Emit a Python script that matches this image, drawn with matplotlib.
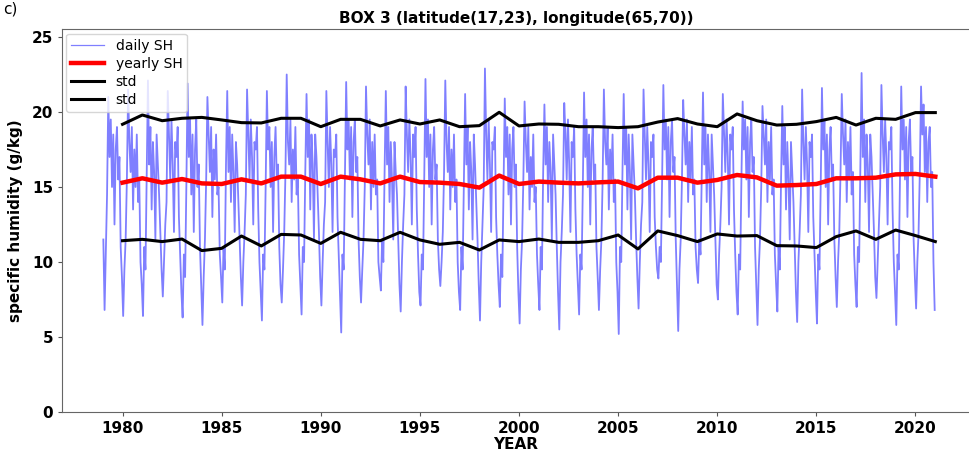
import numpy as np
import matplotlib
matplotlib.use("Agg")
import matplotlib.pyplot as plt

# years of the daily record (one row of sub-yearly samples per year)
daily_years = list(range(1979, 2021))
daily_sh = [
    [11.5, 6.8, 10.5, 14.5, 21.0, 17.0, 19.5, 15.0, 18.5, 12.5, 17.5, 19.0, 15.5, 17.0, 11.0, 9.0],
    [6.4, 9.5, 11.5, 15.5, 21.5, 18.0, 16.0, 19.0, 13.5, 17.5, 15.0, 18.5, 14.0, 15.5, 10.0, 8.5],
    [6.4, 11.0, 9.5, 16.0, 22.1, 16.5, 19.0, 13.5, 18.0, 16.0, 11.5, 18.5, 16.5, 14.5, 12.0, 9.5],
    [7.7, 10.0, 12.5, 14.0, 21.4, 18.5, 15.5, 19.5, 16.5, 12.0, 18.0, 17.0, 19.0, 13.0, 10.5, 8.0],
    [6.3, 10.5, 9.0, 15.0, 21.9, 17.0, 19.5, 14.5, 18.5, 12.0, 17.5, 19.5, 15.0, 16.5, 11.0, 8.5],
    [5.8, 9.0, 11.5, 15.5, 21.0, 18.5, 16.0, 19.0, 13.0, 17.5, 15.5, 18.5, 14.5, 15.0, 10.5, 9.0],
    [7.3, 11.0, 9.5, 16.5, 21.4, 16.0, 19.0, 14.0, 18.5, 16.0, 12.0, 18.0, 16.5, 14.0, 11.5, 9.0],
    [7.1, 10.0, 12.0, 14.5, 21.5, 18.5, 15.5, 19.5, 17.0, 12.5, 18.0, 17.5, 19.0, 13.5, 10.0, 8.0],
    [6.1, 10.5, 9.5, 15.0, 21.4, 17.5, 19.0, 15.0, 18.0, 12.0, 17.0, 19.0, 15.5, 16.5, 11.0, 8.5],
    [7.3, 9.5, 12.0, 16.0, 22.5, 18.0, 16.5, 19.5, 14.0, 17.5, 15.5, 19.0, 14.5, 15.5, 10.5, 8.5],
    [6.5, 11.0, 10.0, 16.0, 21.2, 17.0, 19.5, 13.5, 18.5, 16.5, 11.5, 18.5, 17.0, 14.5, 12.0, 9.0],
    [7.1, 10.0, 12.5, 14.0, 21.4, 18.0, 15.0, 19.0, 16.5, 12.0, 17.5, 17.0, 18.5, 13.0, 10.5, 8.0],
    [5.3, 10.5, 9.5, 15.5, 22.0, 17.5, 19.5, 15.5, 19.0, 13.0, 18.0, 19.5, 16.0, 17.0, 11.5, 9.0],
    [7.3, 9.5, 11.5, 15.0, 21.7, 18.5, 16.5, 19.5, 13.5, 18.0, 15.0, 18.5, 14.5, 15.5, 10.0, 9.0],
    [8.1, 11.5, 10.0, 16.0, 21.4, 16.5, 19.0, 14.0, 18.0, 15.5, 11.5, 18.0, 16.0, 14.5, 11.5, 8.5],
    [6.7, 10.0, 12.5, 14.5, 21.7, 18.5, 16.0, 19.5, 17.0, 12.5, 18.5, 17.0, 19.0, 13.5, 10.5, 8.0],
    [7.1, 10.5, 9.5, 15.5, 22.2, 17.0, 19.5, 15.0, 18.5, 12.5, 17.5, 19.0, 15.5, 16.5, 11.5, 9.5],
    [8.4, 10.0, 12.0, 16.0, 22.1, 18.0, 16.0, 19.0, 13.5, 17.5, 15.0, 18.5, 14.0, 15.5, 10.0, 8.0],
    [6.8, 11.0, 9.5, 15.5, 21.2, 16.5, 19.0, 13.5, 18.0, 16.0, 11.5, 18.5, 16.5, 14.0, 11.5, 8.5],
    [6.1, 10.0, 12.5, 15.0, 22.9, 18.5, 15.5, 19.5, 16.5, 12.0, 18.0, 17.5, 19.0, 13.0, 10.5, 8.5],
    [7.0, 10.5, 9.0, 15.0, 20.9, 17.0, 19.0, 14.5, 18.5, 12.5, 17.5, 19.0, 15.0, 16.5, 11.0, 8.0],
    [5.9, 9.5, 11.5, 15.5, 20.7, 18.0, 16.0, 19.0, 13.5, 17.0, 15.0, 18.5, 14.0, 15.0, 10.5, 8.5],
    [6.8, 11.0, 9.5, 16.0, 20.5, 16.5, 19.0, 14.0, 18.0, 16.0, 11.5, 18.5, 16.5, 14.5, 11.0, 8.0],
    [5.5, 10.0, 12.0, 14.5, 20.6, 18.5, 15.5, 19.5, 16.5, 12.0, 18.0, 17.0, 19.0, 13.5, 10.5, 8.5],
    [6.5, 10.5, 9.5, 15.0, 21.3, 17.0, 19.5, 15.0, 18.5, 12.5, 17.5, 19.0, 15.5, 16.5, 11.0, 9.0],
    [6.8, 9.5, 11.5, 15.5, 21.5, 18.0, 16.5, 19.0, 13.5, 17.5, 15.5, 18.5, 14.0, 15.5, 10.0, 8.0],
    [5.2, 11.0, 10.0, 16.0, 21.2, 16.5, 19.0, 13.5, 18.5, 16.0, 11.5, 18.5, 16.5, 14.5, 11.5, 9.0],
    [6.9, 10.0, 12.5, 14.0, 21.5, 18.5, 15.5, 19.0, 16.5, 12.0, 18.0, 17.0, 18.5, 13.0, 11.0, 9.5],
    [8.9, 11.0, 10.0, 15.5, 21.8, 17.5, 19.5, 15.5, 19.0, 13.0, 18.0, 19.5, 16.0, 17.0, 11.5, 8.5],
    [5.4, 9.5, 11.5, 15.5, 20.8, 18.5, 16.5, 19.5, 14.0, 18.0, 15.5, 19.0, 14.5, 15.5, 11.0, 9.5],
    [8.6, 11.5, 10.5, 16.0, 21.3, 16.5, 19.0, 14.0, 18.5, 16.0, 12.0, 18.5, 16.5, 14.5, 11.5, 8.5],
    [7.5, 10.5, 12.5, 15.0, 21.2, 18.5, 16.0, 19.5, 17.0, 12.5, 18.5, 17.5, 19.0, 13.5, 10.5, 8.0],
    [6.5, 10.5, 9.5, 15.5, 20.7, 17.5, 19.5, 15.5, 19.0, 13.0, 18.0, 19.5, 16.0, 17.0, 11.0, 8.5],
    [5.8, 9.5, 11.5, 15.0, 20.4, 18.5, 16.5, 19.5, 14.0, 18.0, 15.5, 19.0, 14.5, 15.5, 10.5, 8.5],
    [6.7, 11.0, 9.5, 15.5, 20.4, 16.5, 19.0, 13.5, 18.0, 15.5, 11.5, 18.0, 16.0, 14.0, 11.0, 8.0],
    [6.0, 10.0, 12.0, 14.5, 21.5, 18.0, 15.5, 19.0, 16.5, 12.0, 18.0, 17.0, 18.5, 13.0, 10.5, 8.0],
    [5.9, 10.5, 9.5, 15.0, 21.6, 17.5, 19.5, 15.0, 18.5, 12.5, 17.5, 19.0, 15.5, 16.5, 11.5, 9.0],
    [7.0, 10.0, 12.0, 16.0, 21.2, 18.5, 16.5, 19.5, 14.0, 18.0, 15.5, 19.0, 14.5, 16.0, 10.5, 8.5],
    [7.0, 11.0, 10.0, 16.5, 22.6, 17.0, 19.5, 14.0, 18.5, 16.5, 12.0, 18.5, 17.0, 14.5, 12.0, 9.0],
    [7.6, 10.0, 12.5, 15.0, 21.8, 18.5, 16.0, 19.5, 17.0, 12.5, 18.0, 17.5, 19.0, 13.5, 10.0, 8.0],
    [5.8, 10.5, 9.5, 15.5, 21.7, 17.5, 19.5, 15.5, 19.0, 13.0, 18.0, 19.5, 16.0, 17.0, 11.5, 9.0],
    [6.9, 10.0, 12.0, 16.0, 21.7, 18.5, 20.5, 16.0, 19.0, 14.0, 18.0, 19.0, 15.0, 16.0, 10.0, 6.8],
]

# yearly mean and mean +/- std
yearly_years = list(range(1980, 2022))
yearly_sh = [15.29, 15.58, 15.29, 15.53, 15.24, 15.20, 15.51, 15.24, 15.69, 15.69, 15.20,
             15.69, 15.51, 15.24, 15.69, 15.33, 15.29, 15.20, 14.96, 15.76, 15.20, 15.36, 15.29,
             15.24, 15.31, 15.36, 14.91, 15.62, 15.62, 15.29, 15.47, 15.80, 15.64, 15.09, 15.13,
             15.20, 15.58, 15.58, 15.62, 15.84, 15.87, 15.69]
std_upper = [19.18, 19.80, 19.42, 19.58, 19.64, 19.47, 19.29, 19.27, 19.58, 19.58, 19.02,
             19.51, 19.51, 19.07, 19.47, 19.20, 19.47, 19.02, 19.09, 19.98, 19.07, 19.20, 19.18,
             19.02, 19.02, 18.96, 19.02, 19.33, 19.56, 19.20, 19.02, 19.87, 19.42, 19.13, 19.18,
             19.36, 19.64, 19.13, 19.58, 19.51, 19.96, 19.96]
std_lower = [11.42, 11.51, 11.36, 11.53, 10.76, 10.91, 11.73, 11.07, 11.84, 11.80, 11.24,
             11.98, 11.51, 11.42, 11.98, 11.47, 11.18, 11.31, 10.80, 11.47, 11.36, 11.53, 11.31,
             11.31, 11.42, 11.80, 10.87, 12.07, 11.76, 11.36, 11.87, 11.73, 11.76, 11.09, 11.07,
             10.96, 11.69, 12.07, 11.51, 12.13, 11.76, 11.36]

x_ticks = list(range(1980, 2021, 5))
y_ticks = [0, 5, 10, 15, 20, 25]

# sample positions inside each year
n_sub = len(daily_sh[0])
daily_x = np.concatenate([y + (np.arange(n_sub) + 0.5) / n_sub for y in daily_years])
daily_y = np.concatenate([np.array(row) for row in daily_sh])

fig = plt.figure(figsize=(9.7, 4.53), dpi=100)
ax = fig.add_axes([0.064, 0.0905, 0.936, 0.8444])

ax.plot(daily_x, daily_y, color="blue", alpha=0.5, linewidth=1.3, label="daily SH")
ax.plot(yearly_years, yearly_sh, color="red", linewidth=3.2, label="yearly SH")
ax.plot(yearly_years, std_upper, color="black", linewidth=2.2, label="std")
ax.plot(yearly_years, std_lower, color="black", linewidth=2.2, label="std")

ax.set_xlim(1976.95, 2022.75)
ax.set_ylim(0, 25.5)
ax.set_xticks(x_ticks)
ax.set_yticks(y_ticks)
ax.tick_params(labelsize=11, length=3, color="#555555")
for lab in ax.get_xticklabels() + ax.get_yticklabels():
    lab.set_fontweight("bold")
for sp in ax.spines.values():
    sp.set_color("#666666")

ax.set_xlabel("YEAR", fontsize=11, fontweight="bold", labelpad=1)
ax.set_ylabel("specific humidity (g/kg)", fontsize=11, fontweight="bold", labelpad=6)
ax.set_title("BOX 3 (latitude(17,23), longitude(65,70))", fontsize=11, fontweight="bold", pad=5)

leg = ax.legend(loc="upper left", fontsize=10, handlelength=2.4, borderpad=0.35,
                labelspacing=0.3, borderaxespad=0.3, framealpha=0.8)
leg.get_lines()[0].set_linewidth(0.9)

fig.text(0.003, 0.997, "c)", fontsize=11, ha="left", va="top")

fig.savefig("out.png", dpi=100)
